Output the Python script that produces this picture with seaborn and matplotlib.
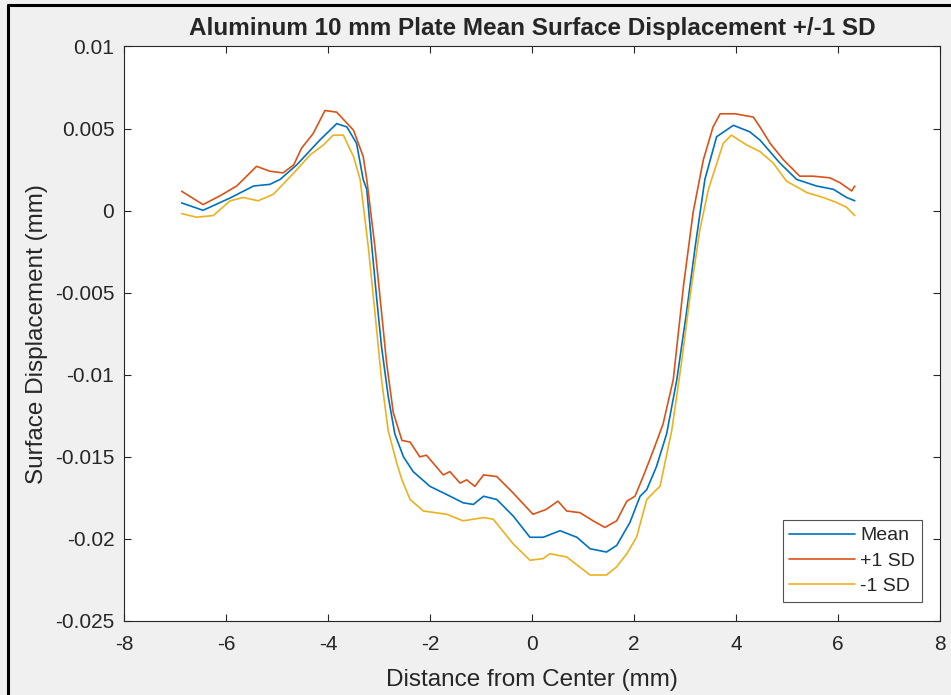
import pandas as pd
import seaborn as sns
import matplotlib.pyplot as plt
from matplotlib.lines import Line2D

# values
mean_x = [-6.87, -6.45, -5.92, -5.46, -5.14, -4.94, -4.61, -4.16, -3.83, -3.63, -3.44,
          -3.31, -3.24, -3.14, -3.05, -2.95, -2.82, -2.69, -2.52, -2.33, -2.0, -1.67,
          -1.35, -1.15, -0.95, -0.69, -0.37, -0.04, 0.22, 0.55, 0.88, 1.14, 1.46, 1.66,
          1.92, 2.12, 2.25, 2.44, 2.64, 2.84, 3.03, 3.2, 3.39, 3.62, 3.95, 4.27, 4.47,
          4.86, 5.19, 5.58, 5.91, 6.17, 6.33]
mean_y = [0.00047, 0.00002, 0.00077, 0.0015, 0.0016, 0.0019, 0.0028, 0.0043, 0.0053, 0.0051, 0.0041,
          0.0019, 0.0013, -0.0022, -0.0052, -0.0083, -0.0113, -0.0136, -0.0150, -0.0159, -0.0168, -0.0173,
          -0.0178, -0.0179, -0.0174, -0.0176, -0.0186, -0.0199, -0.0199, -0.0195, -0.0199, -0.0206, -0.0208, -0.0204,
          -0.0190, -0.0174, -0.0170, -0.0156, -0.0136, -0.0103, -0.0062, -0.0022, 0.0019, 0.0045, 0.0052, 0.0048, 0.0043,
          0.0029, 0.0019, 0.0015, 0.0013, 0.0008, 0.0006]

plus_x = [-6.87, -6.45, -6.12, -5.79, -5.4, -5.14, -4.88, -4.67, -4.52, -4.29, -4.06, -3.83,
          -3.5, -3.31, -3.24, -3.08, -2.95, -2.85, -2.72, -2.55, -2.39, -2.2, -2.07, -1.74,
          -1.61, -1.41, -1.28, -1.12, -0.95, -0.69, -0.37, 0.02, 0.28, 0.51, 0.68, 0.94, 1.2,
          1.43, 1.66, 1.86, 2.02, 2.18, 2.38, 2.57, 2.77, 2.97, 3.16, 3.36, 3.55, 3.69, 3.98,
          4.34, 4.47, 4.67, 4.93, 5.25, 5.51, 5.84, 6.04, 6.27, 6.33]
plus_y = [0.00118, 0.00037, 0.0009, 0.0015, 0.0027, 0.0024, 0.0023, 0.0028, 0.0038, 0.0047, 0.0061, 0.0060,
          0.0049, 0.0033, 0.0019, -0.0022, -0.0062, -0.0093, -0.0123, -0.0140, -0.0141, -0.0150, -0.0149, -0.0161,
          -0.0159, -0.0166, -0.0164, -0.0168, -0.0161, -0.0162, -0.0172, -0.0185, -0.0182, -0.0177, -0.0183, -0.0184, -0.0189,
          -0.0193, -0.0189, -0.0177, -0.0174, -0.0162, -0.0146, -0.0130, -0.0103, -0.0046, -0.0001, 0.0031, 0.0051, 0.0059, 0.0059,
          0.0057, 0.0051, 0.0041, 0.0031, 0.0021, 0.0021, 0.0020, 0.0017, 0.0012, 0.0015]

minus_x = [-6.87, -6.58, -6.25, -5.92, -5.66, -5.37, -5.07, -4.67, -4.35, -4.09, -3.9, -3.7,
           -3.5, -3.37, -3.21, -3.08, -2.95, -2.82, -2.65, -2.55, -2.39, -2.13, -1.67, -1.35,
           -0.95, -0.76, -0.37, -0.04, 0.22, 0.35, 0.68, 1.14, 1.46, 1.66, 1.86, 2.05, 2.25,
           2.44, 2.51, 2.74, 2.93, 3.1, 3.29, 3.46, 3.75, 3.91, 4.21, 4.47, 4.73, 4.99, 5.39,
           5.71, 5.97, 6.17, 6.33]
minus_y = [-0.00018, -0.0004, -0.0003, 0.0006, 0.0008, 0.0006, 0.0010, 0.0023, 0.0034, 0.0040, 0.0046, 0.0046,
           0.0033, 0.0019, -0.0022, -0.0062, -0.0103, -0.0134, -0.0154, -0.0164, -0.0176, -0.0183, -0.0185, -0.0189,
           -0.0187, -0.0188, -0.0203, -0.0213, -0.0212, -0.0209, -0.0211, -0.0222, -0.0222, -0.0217, -0.0209, -0.0199, -0.0176,
           -0.0170, -0.0168, -0.0134, -0.0093, -0.0052, -0.0012, 0.0013, 0.0041, 0.0046, 0.0040, 0.0036, 0.0029, 0.0018, 0.0011,
           0.0008, 0.0005, 0.0002, -0.0003]

series_names = ['Mean', '+1 SD', '-1 SD']
colors = ['#0072BD', '#D95319', '#EDB120']
x_ticks = [-8, -6, -4, -2, 0, 2, 4, 6, 8]
y_ticks = [0.01, 0.005, 0, -0.005, -0.01, -0.015, -0.02, -0.025]
y_tick_labels = ['0.01', '0.005', '0', '-0.005', '-0.01', '-0.015', '-0.02', '-0.025']

df = pd.concat([
    pd.DataFrame({'x': mean_x, 'y': mean_y, 'series': series_names[0]}),
    pd.DataFrame({'x': plus_x, 'y': plus_y, 'series': series_names[1]}),
    pd.DataFrame({'x': minus_x, 'y': minus_y, 'series': series_names[2]}),
])

sns.set_style('ticks')
plt.rcParams['font.family'] = ['Liberation Sans', 'DejaVu Sans']
plt.rcParams['axes.unicode_minus'] = False

fig = plt.figure(figsize=(9.51, 6.95), dpi=100, facecolor='#f0f0f0')
ax = fig.add_axes([0.1304, 0.1065, 0.858, 0.8266])
ax.set_facecolor('white')

sns.lineplot(data=df, x='x', y='y', hue='series', hue_order=series_names,
             palette=colors, linewidth=1.2, sort=False, estimator=None, ax=ax)

ax.set_xlim(-8, 8)
ax.set_ylim(-0.025, 0.01)
ax.set_xticks(x_ticks)
ax.set_xticklabels([str(t) for t in x_ticks])
ax.set_yticks(y_ticks)
ax.set_yticklabels(y_tick_labels)

for s in ax.spines.values():
    s.set_visible(True)
    s.set_color('#262626')
    s.set_linewidth(0.8)
ax.tick_params(direction='in', length=5, width=0.8, top=True, right=True,
               colors='#262626', labelsize=15, labelcolor='#262626')
ax.tick_params(axis='x', pad=10)
ax.tick_params(axis='y', pad=7)

ax.set_title('Aluminum 10 mm Plate Mean Surface Displacement +/-1 SD',
             fontsize=17.5, fontweight='bold', pad=8)
ax.set_xlabel('Distance from Center (mm)', fontsize=17.5, color='#262626', labelpad=11)
ax.set_ylabel('Surface Displacement (mm)', fontsize=17.5, color='#262626', labelpad=5)

leg = ax.legend(loc='lower right', bbox_to_anchor=(0.978, 0.033), fontsize=14,
                frameon=True, fancybox=False, handlelength=3.4, handletextpad=0.25,
                borderpad=0.35, labelspacing=0.4, borderaxespad=0)
leg.get_frame().set_edgecolor('#262626')
leg.get_frame().set_linewidth(0.8)

# dark border of the screenshot
fig.add_artist(Line2D([7.5 / 951, 7.5 / 951], [0, 1 - 4.5 / 695], color='black', lw=2.2,
                      transform=fig.transFigure))
fig.add_artist(Line2D([7.5 / 951, 1], [1 - 4.5 / 695, 1 - 4.5 / 695], color='black', lw=2.2,
                      transform=fig.transFigure))

fig.savefig('out.png', dpi=100, facecolor=fig.get_facecolor())
